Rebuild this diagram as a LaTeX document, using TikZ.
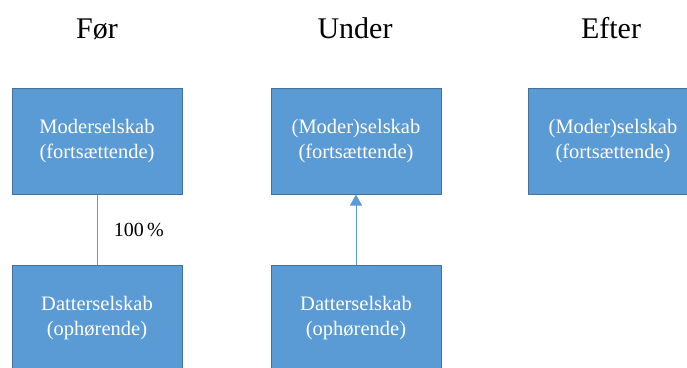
\documentclass[tikz,border=0pt]{standalone}
\usepackage{fontspec}
\setmainfont{Liberation Serif}
\usetikzlibrary{arrows.meta,positioning}
\definecolor{boksblaa}{HTML}{5B9BD5}
\definecolor{kantblaa}{HTML}{41719C}

\begin{document}
\begin{tikzpicture}[x=1pt,y=1pt,>={Triangle[width=12pt,length=11pt]},node distance=70pt,
    selskab/.style={draw=kantblaa, line width=1pt, fill=boksblaa, text=white,
      minimum width=170pt, minimum height=106pt, align=center,
      font=\fontsize{20.5}{25}\selectfont},
    titel/.style={font=\fontsize{30}{36}\selectfont, anchor=base}]
  \useasboundingbox (0,0) rectangle (687,-367);
  \clip (0,0) rectangle (687,-367);

  \node[selskab] (mor) at (97,-141) {Moderselskab\\(fortsættende)};
  \node[selskab] (datter) [below=of mor] {Datterselskab\\(ophørende)};
  \node[selskab] (morU) [right=88pt of mor] {(Moder)selskab\\(fortsættende)};
  \node[selskab] (datterU) [below=of morU] {Datterselskab\\(ophørende)};
  \node[selskab] (morE) [right=86pt of morU] {(Moder)selskab\\(fortsættende)};

  \node[titel] (foer) at (97,-38) {Før};
  \node[titel] (under) at (355,-38) {Under};
  \node[titel] (efter) at (611,-38) {Efter};

  \draw[boksblaa, line width=1pt] (mor) -- node[right=13pt, text=black,
      font=\fontsize{20}{24}\selectfont] {100\,\%} (datter);
  \draw[->, boksblaa, line width=1pt] (datterU) -- (morU);
\end{tikzpicture}
\end{document}
